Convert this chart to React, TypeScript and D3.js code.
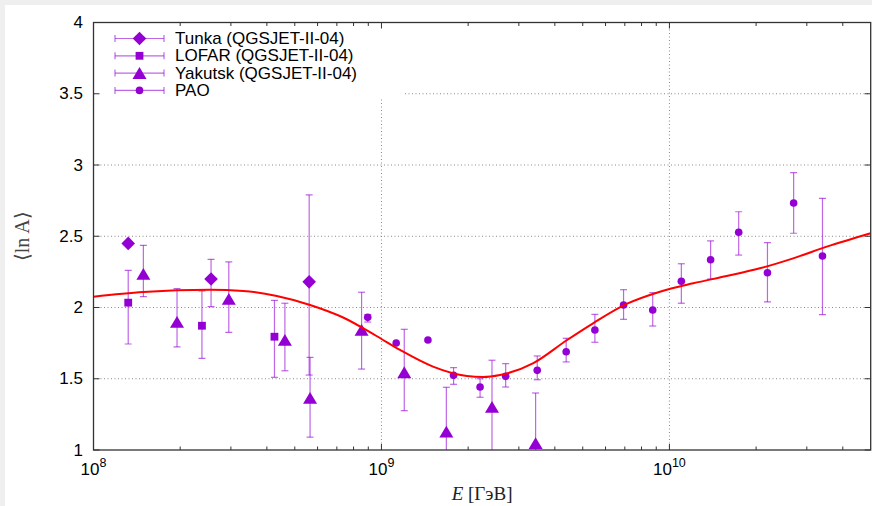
import React from "react";
import * as d3 from "d3";

// energy in GeV, values <ln A> with error ranges
const tunkaE = [1.32e8, 2.56e8, 5.61e8];
const tunkaV = [2.45, 2.2, 2.18];
const tunkaLo = [2.45, 2.006, 1.526];
const tunkaHi = [2.45, 2.338, 2.79];

const lofarE = [1.32e8, 2.38e8, 4.25e8];
const lofarV = [2.034, 1.872, 1.795];
const lofarLo = [1.744, 1.643, 1.51];
const lofarHi = [2.26, 2.116, 2.05];

const yakE = [1.49e8, 1.95e8, 2.95e8, 4.62e8, 5.65e8, 8.53e8, 1.2e9, 1.68e9, 2.42e9, 3.43e9];
const yakV = [2.235, 1.898, 2.06, 1.772, 1.365, 1.842, 1.545, 1.128, 1.302, 1.047];
const yakLo = [2.076, 1.723, 1.826, 1.556, 1.09, 1.568, 1.276, 0.8, 0.9, 0.7];
const yakHi = [2.436, 2.132, 2.32, 2.03, 1.65, 2.107, 1.847, 1.44, 1.63, 1.4];

const paoE = [
  8.96e8, 1.125e9, 1.45e9, 1.78e9, 2.2e9, 2.7e9, 3.475e9, 4.38e9, 5.51e9,
  6.93e9, 8.75e9, 1.1e10, 1.39e10, 1.74e10, 2.19e10, 2.7e10, 3.4e10,
];
const paoV = [
  1.931, 1.751, 1.772, 1.524, 1.442, 1.517, 1.559, 1.69, 1.842,
  2.018, 1.982, 2.184, 2.335, 2.528, 2.244, 2.733, 2.361,
];
const paoLo = [
  1.898, 1.751, 1.772, 1.461, 1.37, 1.442, 1.493, 1.618, 1.756,
  1.917, 1.87, 2.03, 2.2, 2.368, 2.039, 2.521, 1.95,
];
const paoHi = [
  1.95, 1.751, 1.772, 1.578, 1.5, 1.606, 1.66, 1.784, 1.952,
  2.125, 2.104, 2.307, 2.467, 2.672, 2.455, 2.946, 2.766,
];

// fitted curve
const curveE = [
  1e8, 1.49e8, 2.54e8, 3.31e8, 4.33e8, 5.65e8, 7.36e8, 9.61e8, 1.16e9, 1.51e9,
  1.98e9, 2.25e9, 2.58e9, 3.37e9, 4.4e9, 5.43e9, 7.1e9, 9.27e9, 1.21e10,
  1.58e10, 2.06e10, 2.69e10, 3.52e10, 5e10,
];
const curveV = [
  2.076, 2.109, 2.125, 2.116, 2.081, 2.018, 1.93, 1.8, 1.702, 1.585,
  1.519, 1.512, 1.526, 1.61, 1.77, 1.889, 2.025, 2.111, 2.17,
  2.221, 2.275, 2.345, 2.427, 2.521,
];

const yTicks = [1, 1.5, 2, 2.5, 3, 3.5, 4];
const xDecades = [8, 9, 10];
const legendLabels = [
  "Tunka (QGSJET-II-04)",
  "LOFAR (QGSJET-II-04)",
  "Yakutsk (QGSJET-II-04)",
  "PAO",
];

const W = 872;
const H = 506;
const left = 93.5;
const right = 870.7;
const top = 22.5;
const bottom = 450;
const violet = "#9400d3";
const sans = "'Liberation Sans', Arial, sans-serif";
const serif = "'Liberation Serif', 'Times New Roman', serif";

const x = d3.scaleLog().domain([1e8, 5e10]).range([left, right]);
const y = d3.scaleLinear().domain([1, 4]).range([bottom, top]);

function Marker({ kind, cx, cy }: { kind: string; cx: number; cy: number }) {
  if (kind === "diamond") {
    const r = 6.8;
    return <path d={`M${cx},${cy - r}L${cx + r},${cy}L${cx},${cy + r}L${cx - r},${cy}Z`} fill={violet} />;
  }
  if (kind === "square") {
    const s = 3.9;
    return <rect x={cx - s} y={cy - s} width={2 * s} height={2 * s} fill={violet} />;
  }
  if (kind === "triangle") {
    return <path d={`M${cx - 7},${cy + 5.8}L${cx + 7},${cy + 5.8}L${cx},${cy - 6}Z`} fill={violet} />;
  }
  return <circle cx={cx} cy={cy} r={3.8} fill={violet} />;
}

function ErrBar({ cx, y0, y1 }: { cx: number; y0: number; y1: number }) {
  if (Math.abs(y1 - y0) < 0.5) return null;
  return (
    <g stroke={violet} strokeOpacity={0.6} strokeWidth={1.2}>
      <line x1={cx} x2={cx} y1={y0} y2={y1} />
      <line x1={cx - 3.5} x2={cx + 3.5} y1={y0} y2={y0} />
      <line x1={cx - 3.5} x2={cx + 3.5} y1={y1} y2={y1} />
    </g>
  );
}

function Series({ kind, E, V, lo, hi }: { kind: string; E: number[]; V: number[]; lo: number[]; hi: number[] }) {
  return (
    <g>
      {E.map((e, i) => (
        <g key={i}>
          <ErrBar cx={x(e)} y0={y(lo[i])} y1={y(hi[i])} />
          <Marker kind={kind} cx={x(e)} cy={y(V[i])} />
        </g>
      ))}
    </g>
  );
}

export default function App() {
  const minor: number[] = [];
  for (let d = 8; d <= 10; d++) {
    for (let m = 2; m <= 9; m++) {
      const v = m * Math.pow(10, d);
      if (v < 5e10) minor.push(v);
    }
  }
  const line = d3
    .line<number>()
    .x((_, i) => x(curveE[i]))
    .y((v) => y(v))
    .curve(d3.curveMonotoneX);

  const kinds = ["diamond", "square", "triangle", "circle"];

  return (
    <svg width={W} height={H} style={{ position: "absolute", left: 0, top: 0 }}>
      <defs>
        <clipPath id="plot">
          <rect x={left} y={top} width={right - left} height={bottom - top} />
        </clipPath>
      </defs>
      <rect width={W} height={H} fill="#efefef" />
      <rect x={5} y={5} width={W - 5} height={H - 5} fill="#fff" />

      {/* grid */}
      <g stroke="#888" strokeWidth={1} strokeDasharray="1,2.5">
        {yTicks.slice(1, -1).map((t) => (
          <line key={t} x1={left} x2={right} y1={y(t)} y2={y(t)} />
        ))}
        {[1e9, 1e10].map((t) => (
          <line key={t} x1={x(t)} x2={x(t)} y1={top} y2={bottom} />
        ))}
      </g>

      {/* legend background */}
      <rect x={left + 1} y={top + 1} width={404 - left} height={98 - top} fill="#fff" />

      {/* ticks */}
      <g stroke="#333" strokeWidth={1}>
        {yTicks.map((t) => (
          <g key={t}>
            <line x1={left} x2={left + 6} y1={y(t)} y2={y(t)} />
            <line x1={right} x2={right - 6} y1={y(t)} y2={y(t)} />
          </g>
        ))}
        {xDecades.map((d) => (
          <g key={d}>
            <line x1={x(Math.pow(10, d))} x2={x(Math.pow(10, d))} y1={bottom} y2={bottom - 6} />
            <line x1={x(Math.pow(10, d))} x2={x(Math.pow(10, d))} y1={top} y2={top + 6} />
          </g>
        ))}
        {minor.map((v) => (
          <g key={v}>
            <line x1={x(v)} x2={x(v)} y1={bottom} y2={bottom - 3.5} />
            <line x1={x(v)} x2={x(v)} y1={top} y2={top + 3.5} />
          </g>
        ))}
      </g>

      {/* data */}
      <g clipPath="url(#plot)">
        <Series kind="diamond" E={tunkaE} V={tunkaV} lo={tunkaLo} hi={tunkaHi} />
        <Series kind="square" E={lofarE} V={lofarV} lo={lofarLo} hi={lofarHi} />
        <Series kind="triangle" E={yakE} V={yakV} lo={yakLo} hi={yakHi} />
        <Series kind="circle" E={paoE} V={paoV} lo={paoLo} hi={paoHi} />
        <path d={line(curveV) || ""} fill="none" stroke="#ff0000" strokeWidth={2} />
      </g>

      {/* frame */}
      <rect x={left} y={top} width={right - left} height={bottom - top} fill="none" stroke="#333" strokeWidth={1.3} />

      {/* tick labels */}
      <g fontFamily={sans} fontSize={17} fill="#000">
        {yTicks.map((t) => (
          <text key={t} x={left - 10.5} y={y(t)} textAnchor="end" dominantBaseline="central">
            {t}
          </text>
        ))}
        {xDecades.map((d) => (
          <text key={d} x={x(Math.pow(10, d))} y={475} textAnchor="middle">
            10
            <tspan dy={-8} fontSize={12.5}>{d}</tspan>
          </text>
        ))}
      </g>

      {/* axis titles */}
      <text x={(left + right) / 2} y={500} textAnchor="middle" fontFamily={serif} fontSize={19} fill="#222">
        <tspan fontStyle="italic">E</tspan> [ГэВ]
      </text>
      <text
        transform={`translate(29,${(top + bottom) / 2}) rotate(-90)`}
        textAnchor="middle"
        fontFamily={serif}
        fontSize={20}
        fill="#444"
      >
        ⟨ln A⟩
      </text>

      {/* legend */}
      <g>
        {legendLabels.map((lab, i) => {
          const ly = 38.5 + i * 17.3;
          return (
            <g key={lab}>
              <g stroke={violet} strokeOpacity={0.6} strokeWidth={1.2}>
                <line x1={115} x2={164} y1={ly} y2={ly} />
                <line x1={115} x2={115} y1={ly - 3.5} y2={ly + 3.5} />
                <line x1={164} x2={164} y1={ly - 3.5} y2={ly + 3.5} />
              </g>
              <Marker kind={kinds[i]} cx={139.5} cy={ly} />
              <text x={175} y={ly} dominantBaseline="central" fontFamily={sans} fontSize={17} fill="#000">
                {lab}
              </text>
            </g>
          );
        })}
      </g>
    </svg>
  );
}
